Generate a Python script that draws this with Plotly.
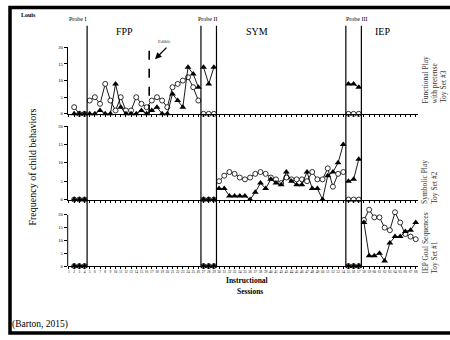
import plotly.graph_objects as go

W, H = 450, 340

# ---------------- categories (x-axis sessions) ----------------
probe1_x = [2, 3, 4]
fpp_x = list(range(5, 27))
probe2_x = [27, 28, 29]
sym_x = list(range(30, 55))
probe3_x = [55, 56, 57]
iep_x = list(range(58, 69))
tick_labels = [str(i) for i in range(1, 69)]

# ---------------- Functional play (top panel) ----------------
fp_circ_probe1 = [2, 0, 0]
fp_tri_probe1 = [0, 0, 0]
fp_circ_fpp = [4, 5, 3, 9, 4, 1, 5, 1, 1, 5, 3, 2, 4, 5, 4, 2, 8, 9, 10, 11, 8, 4]
fp_tri_fpp = [0, 0, 1, 0, 0, 9, 2, 0, 0, 0, 1, 0, 1, 2, 0, 0, 6, 4, 2, 14, 12, 8]
fp_circ_probe2 = [0, 0, 0]
fp_tri_probe2 = [14, 9, 14]
fp_circ_probe3 = [0, 0, 0]
fp_tri_probe3 = [9, 9, 8]

# ---------------- Symbolic play (middle panel) ----------------
sp_circ_probe1 = [0, 0, 0]
sp_tri_probe1 = [0, 0, 0]
sp_circ_probe2 = [0, 0, 0]
sp_tri_probe2 = [0, 0, 0]
sp_circ_sym = [5, 6.5, 7.5, 7, 6, 5.5, 6, 7, 7.5, 7, 6, 5.5, 4.5, 6, 5.5, 5.5, 5.5, 5,
               7.5, 5.5, 5.5, 8.5, 3.5, 7, 7.5]
sp_tri_sym = [3, 3, 1, 1, 1, 1, 0, 2, 4.5, 3, 5.5, 4.5, 4, 7.5, 5, 4, 4, 7.5, 3, 3, 0,
              6.5, 7.5, 10, 15]
sp_circ_probe3 = [0, 0, 0]
sp_tri_probe3 = [5, 5.5, 11]

# ---------------- IEP goal sequences (bottom panel) ----------------
ie_circ_probe1 = [0, 0, 0]
ie_tri_probe1 = [0, 0, 0]
ie_circ_probe2 = [0, 0, 0]
ie_tri_probe2 = [0, 0, 0]
ie_circ_probe3 = [0, 0, 0]
ie_tri_probe3 = [0, 0, 0]
ie_circ_iep = [18, 22, 19, 19, 15, 14, 21, 17, 12.5, 11.5, 10.5]
ie_tri_iep = [17, 4, 4, 5, 2, 9, 11.5, 11.5, 13.5, 14, 17]

phase_breaks = [4.5, 26.5, 29.5, 54.5, 57.5]
edible_break = 16.5


def join(segments):
    xs, ys = [], []
    for sx, sy in segments:
        if xs:
            xs.append(None)
            ys.append(None)
        xs.extend(sx)
        ys.extend(sy)
    return xs, ys


def px(x):
    return x / W


def py(y):
    return 1 - y / H


FONT = "Liberation Serif"

panels = [
    ("3",
     [(probe1_x, fp_circ_probe1), (fpp_x, fp_circ_fpp), (probe2_x, fp_circ_probe2), (probe3_x, fp_circ_probe3)],
     [(probe1_x, fp_tri_probe1), (fpp_x, fp_tri_fpp), (probe2_x, fp_tri_probe2), (probe3_x, fp_tri_probe3)]),
    ("2",
     [(probe1_x, sp_circ_probe1), (probe2_x, sp_circ_probe2), (sym_x, sp_circ_sym), (probe3_x, sp_circ_probe3)],
     [(probe1_x, sp_tri_probe1), (probe2_x, sp_tri_probe2), (sym_x, sp_tri_sym), (probe3_x, sp_tri_probe3)]),
    ("",
     [(probe1_x, ie_circ_probe1), (probe2_x, ie_circ_probe2), (probe3_x, ie_circ_probe3), (iep_x, ie_circ_iep)],
     [(probe1_x, ie_tri_probe1), (probe2_x, ie_tri_probe2), (probe3_x, ie_tri_probe3), (iep_x, ie_tri_iep)]),
]

fig = go.Figure()
for suf, circ, tri in panels:
    cx, cy = join(circ)
    tx, ty = join(tri)
    fig.add_trace(go.Scatter(
        x=cx, y=cy, xaxis="x" + suf, yaxis="y" + suf, mode="lines+markers",
        line=dict(color="black", width=0.9), cliponaxis=False, connectgaps=False,
        marker=dict(symbol="circle", size=5, color="white", line=dict(color="black", width=0.8)),
        showlegend=False, hoverinfo="skip"))
    fig.add_trace(go.Scatter(
        x=tx, y=ty, xaxis="x" + suf, yaxis="y" + suf, mode="lines+markers",
        line=dict(color="black", width=0.9), cliponaxis=False, connectgaps=False,
        marker=dict(symbol="triangle-up", size=6, color="black", line=dict(width=0)),
        showlegend=False, hoverinfo="skip"))

BOT0 = 268.0            # pixel row of the bottom panel's zero line
BOTS = 2.6              # pixels per unit in the bottom panel

xdom = [px(67.7), px(418.3)]
xcommon = dict(domain=xdom, range=[0.75, 68.5], showline=True, linecolor="black", linewidth=1,
               ticks="outside", ticklen=2, tickwidth=0.6, tickcolor="black",
               tickmode="array", tickvals=list(range(1, 69)), ticktext=tick_labels,
               showgrid=False, zeroline=False, tickangle=0,
               tickfont=dict(family=FONT, size=3.5, color="black"))
ycommon = dict(showline=True, linecolor="black", linewidth=1, ticks="outside", ticklen=3,
               tickwidth=0.8, tickcolor="black", tickvals=[0, 5, 10, 15, 20],
               showgrid=False, zeroline=False,
               tickfont=dict(family=FONT, size=4.5, color="black"))

fig.update_layout(
    width=W, height=H, margin=dict(l=0, r=0, t=0, b=0),
    paper_bgcolor="white", plot_bgcolor="white", showlegend=False,
    xaxis=dict(xcommon, anchor="y", showticklabels=True),
    xaxis2=dict(xcommon, anchor="y2", matches="x", showticklabels=False),
    xaxis3=dict(xcommon, anchor="y3", matches="x", showticklabels=False),
    yaxis=dict(ycommon, domain=[py(BOT0), py(BOT0 - 22.5 * BOTS)], range=[0, 22.5], anchor="x",
               showline=False),
    yaxis2=dict(ycommon, domain=[py(200.5), py(126)], range=[0, 20], anchor="x2"),
    yaxis3=dict(ycommon, domain=[py(113.5), py(46)], range=[0, 20], anchor="x3"),
)

shapes = []
for b in phase_breaks:
    shapes.append(dict(type="line", xref="x", yref="paper", x0=b, x1=b, y0=py(BOT0), y1=py(24),
                       line=dict(color="black", width=1.2)))
shapes.append(dict(type="line", xref="x3", yref="paper", x0=edible_break, x1=edible_break,
                   y0=py(113.5), y1=py(45), line=dict(color="black", width=1.6, dash="dash")))
shapes.append(dict(type="line", xref="x domain", yref="y", x0=0, x1=0, y0=0, y1=20,
                   line=dict(color="black", width=1)))
shapes.append(dict(type="rect", xref="paper", yref="paper", x0=px(10), x1=px(470),
                   y0=py(336), y1=py(5.5), line=dict(color="black", width=3.5)))
fig.update_layout(shapes=shapes)


def note(text, x, y, size, bold=False, angle=0, color="black", xanchor="center",
         yanchor="middle"):
    t = "<b>%s</b>" % text if bold else text
    return dict(text=t, x=px(x), y=py(y), xref="paper", yref="paper", showarrow=False,
                textangle=angle, xanchor=xanchor, yanchor=yanchor,
                font=dict(family=FONT, size=size, color=color))


annotations = [
    note("Louis", 28, 13, 6, bold=True),
    note("Probe I", 78, 17, 6),
    note("Probe II", 208, 17, 6),
    note("Probe III", 357, 17, 6),
    note("FPP", 124, 30, 10),
    note("SYM", 257, 30, 10),
    note("IEP", 382, 30, 10),
    note("Edible", 164, 40, 4.5, bold=True, color="#777777"),
    note("Frequency of child behaviors", 33, 168, 10, angle=-90),
    note("Functional Play", 425, 105, 7.5, angle=-90, color="#333333", yanchor="bottom"),
    note("with pretense", 434.5, 105, 7.5, angle=-90, color="#333333", yanchor="bottom"),
    note("Toy Set #3", 444, 105, 7.5, angle=-90, color="#333333", yanchor="bottom"),
    note("Symbolic Play", 425, 207, 7.5, angle=-90, color="#333333", yanchor="bottom"),
    note("Toy Set #2", 434.5, 207, 7.5, angle=-90, color="#333333", yanchor="bottom"),
    note("IEP Goal Sequences", 425, 278, 7.5, angle=-90, color="#333333", yanchor="bottom"),
    note("Toy Set #1", 434.5, 278, 7.5, angle=-90, color="#333333", yanchor="bottom"),
    note("Instructional", 247, 283, 7.5, bold=True),
    note("Sessions", 250, 294, 7.5, bold=True),
    note("(Barton, 2015)", 40, 327, 9.5),
    dict(text="", x=px(155), y=py(58), xref="paper", yref="paper", showarrow=True,
         ax=13, ay=-13, arrowhead=2, arrowsize=1, arrowwidth=1.3, arrowcolor="black"),
]
fig.update_layout(annotations=annotations)

fig.write_html("out.html", config={"displayModeBar": False},
               post_script="document.body.style.margin='0px';")
